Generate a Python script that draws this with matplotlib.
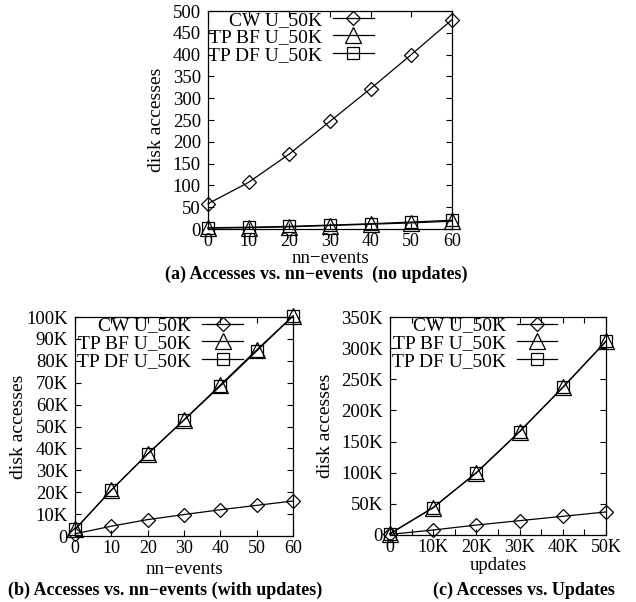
import matplotlib
matplotlib.use("Agg")
import matplotlib.pyplot as plt
from matplotlib.ticker import MultipleLocator, FuncFormatter

plt.rcParams['font.family'] = ['Liberation Serif', 'DejaVu Serif']
plt.rcParams['font.size'] = 13.5
plt.rcParams['mathtext.default'] = 'regular'

series_labels = ["CW U_50K", "TP BF U_50K", "TP DF U_50K"]
markers = ["D", "^", "s"]
msizes = [7.2, 11, 9]

# (a) no updates
a_x = [0, 10, 20, 30, 40, 50, 60]
a_cw = [58, 107, 172, 247, 322, 400, 480]
a_bf = [2, 3, 5, 8, 11, 14, 18]
a_df = [3, 4, 6, 9, 12, 16, 20]

# (b) with updates
b_x = [0, 10, 20, 30, 40, 50, 60]
b_cw = [1000, 4500, 7500, 9800, 12000, 14000, 16000]
b_bf = [3000, 21000, 37500, 53000, 69000, 85000, 100500]
b_df = [3000, 21000, 37500, 53000, 68500, 84500, 100500]

# (c) vs updates
c_x = [0, 10000, 20000, 30000, 40000, 50000]
c_cw = [1000, 8000, 16000, 23000, 30000, 37000]
c_bf = [2000, 44000, 100000, 166000, 237000, 311000]
c_df = [2000, 44000, 100000, 166000, 237000, 311000]

fig = plt.figure(figsize=(6.36, 6.02), dpi=100)

def kfmt(v, pos):
    if v == 0:
        return "0"
    return "%dK" % round(v / 1000)

def setup(ax, xs, ys_list, xlim, ylim, xmaj, ymaj, xlabel, legend_anchor,
          yfmt=None, xfmt=None, xminor=None, ylab_x=-0.25, xlab_y=-0.1):
    for ys, lab, m, ms in zip(ys_list, series_labels, markers, msizes):
        ax.plot(xs, ys, color='black', lw=0.9, marker=m, ms=ms,
                mfc='none', mec='black', mew=0.9, label=lab, clip_on=False,
                zorder=3)
    ax.set_xlim(*xlim)
    ax.set_ylim(*ylim)
    ax.xaxis.set_major_locator(MultipleLocator(xmaj))
    ax.yaxis.set_major_locator(MultipleLocator(ymaj))
    if xminor:
        ax.xaxis.set_minor_locator(MultipleLocator(xminor))
        ax.tick_params(axis='x', which='minor', direction='in', top=True,
                       bottom=True, length=4, width=0.8)
    if yfmt:
        ax.yaxis.set_major_formatter(FuncFormatter(yfmt))
    if xfmt:
        ax.xaxis.set_major_formatter(FuncFormatter(xfmt))
    ax.tick_params(which='major', direction='in', top=True, right=True,
                   length=4, width=0.8, labelsize=13.5)
    ax.tick_params(axis='y', pad=5)
    ax.tick_params(axis='x', pad=3, labelsize=13)
    for s in ax.spines.values():
        s.set_linewidth(0.9)
    ax.set_ylabel("disk accesses", fontsize=14)
    ax.yaxis.set_label_coords(ylab_x, 0.5)
    ax.set_xlabel(xlabel, fontsize=13.5)
    ax.xaxis.set_label_coords(0.5, xlab_y)
    leg = ax.legend(loc='upper right', bbox_to_anchor=legend_anchor,
                    frameon=False, markerfirst=False, handlelength=2.1,
                    handletextpad=0.55, labelspacing=0.0, borderpad=0.0,
                    borderaxespad=0.0, fontsize=14)
    for col in leg._legend_handle_box.get_children():
        col.align = 'right'
    return ax

ax_a = fig.add_axes([0.327, 0.6196, 0.3836, 0.3621])
setup(ax_a, a_x, [a_cw, a_bf, a_df], (0, 60), (0, 500), 10, 50,
      "nn\u2212events", (0.68, 1.0), ylab_x=-0.178, xlab_y=-0.097)

ax_b = fig.add_axes([0.118, 0.1096, 0.3428, 0.3638])
setup(ax_b, b_x, [b_cw, b_bf, b_df], (0, 60), (0, 100000), 10, 10000,
      "nn\u2212events", (0.77, 1.0), yfmt=kfmt, ylab_x=-0.222, xlab_y=-0.115)

ax_c = fig.add_axes([0.6132, 0.1113, 0.3396, 0.3621])
setup(ax_c, c_x, [c_cw, c_bf, c_df], (0, 50000), (0, 350000), 10000, 50000,
      "updates", (0.775, 1.0), yfmt=kfmt, xfmt=kfmt, xminor=5000,
      ylab_x=-0.26, xlab_y=-0.1)

fig.text(316 / 636, 1 - 274.5 / 602, "(a) Accesses vs. nn\u2212events  (no updates)",
         ha='center', va='center', fontweight='bold', fontsize=13)
fig.text(165 / 636, 1 - 590 / 602, "(b) Accesses vs. nn\u2212events (with updates)",
         ha='center', va='center', fontweight='bold', fontsize=13)
fig.text(524 / 636, 1 - 590 / 602, "(c) Accesses vs. Updates",
         ha='center', va='center', fontweight='bold', fontsize=13)

fig.savefig("out.png", dpi=100)
